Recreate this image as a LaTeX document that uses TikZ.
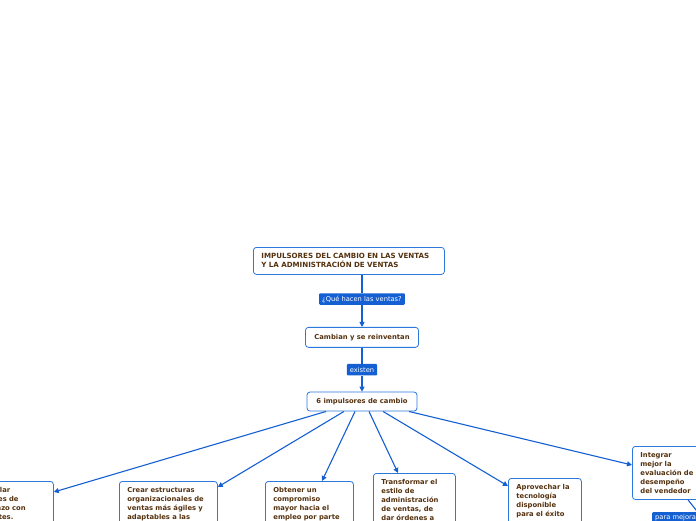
\documentclass[tikz,border=0pt]{standalone}
\usepackage{fontspec}
\setmainfont{DejaVu Sans}
\usetikzlibrary{arrows.meta, positioning}
\definecolor{mapblue}{RGB}{45, 120, 220}
\definecolor{linkblue}{RGB}{20, 95, 210}
\definecolor{mapbrown}{RGB}{85, 50, 15}

\begin{document}
\begin{tikzpicture}[
    x=1pt, y=-1pt,
    topic/.style={rectangle, rounded corners=3pt, draw=mapblue, line width=0.8pt,
                fill=white, text=mapbrown, align=left, inner xsep=8pt, inner ysep=6pt,
                font=\fontsize{6.8}{9}\selectfont\bfseries},
    driver/.style={topic, anchor=north west, text depth=60pt},
    tag/.style={rectangle, rounded corners=1pt, fill=linkblue, text=white,
                inner xsep=3pt, inner ysep=0pt, minimum height=11.5pt,
                font=\fontsize{6.7}{8}\selectfont},
    link/.style={linkblue, line width=1.1pt},
    arrow/.style={link, -{Triangle[length=5pt, width=5pt]}}
]
\useasboundingbox (0,0) rectangle (696,520);
\clip (0,0) rectangle (696,520);

% centre
\node[topic, anchor=north west, text width=175pt, minimum height=27pt, inner ysep=5pt,
      font=\fontsize{7.1}{9}\selectfont\bfseries] (title) at (253,247)
    {IMPULSORES DEL CAMBIO EN LAS VENTAS\\Y LA ADMINISTRACIÓN DE VENTAS};
\node[tag] (que) at (362,299) {¿Qué hacen las ventas?};
\node[topic, align=center, minimum width=113pt, minimum height=20pt, inner ysep=3pt,
      below=22pt of que] (cambian)
    {Cambian y se reinventan};
\node[tag, below=16pt of cambian] (existen) {existen};
\node[topic, align=center, minimum width=110pt, minimum height=19pt, inner ysep=3pt,
      below=16pt of existen] (seis)
    {6 impulsores de cambio};

% impulsores
\node[driver, text width=78pt] (relaciones) at (-41,481)
    {Desarrollar\\relaciones de\\largo plazo con\\los clientes.};
\node[driver, text width=82pt] (estructuras) at (119,481)
    {Crear estructuras\\organizacionales de\\ventas más ágiles y\\adaptables a las};
\node[driver, text width=72pt] (compromiso) at (265,481)
    {Obtener un\\compromiso\\mayor hacia el\\empleo por parte};
\node[driver, text width=66pt] (estilo) at (373,473)
    {Transformar el\\estilo de\\administración\\de ventas, de\\dar órdenes a};
\node[driver, text width=57pt] (tecnologia) at (508,478)
    {Aprovechar la\\tecnología\\disponible\\para el éxito};
\node[topic, anchor=north west, text width=54pt] (evaluacion) at (632,446)
    {Integrar\\mejor la\\evaluación de\\desempeño\\del vendedor};
\node[tag, anchor=north west] (mejorar) at (652,512) {para mejorar};
\coordinate (sigue) at (712,530);

\draw[link] (title.south -| que) -- (que);
\draw[arrow] (que) -- (cambian);
\draw[link] (cambian) -- (existen);
\draw[arrow] (existen) -- (seis);

\draw[arrow] ([xshift=-36pt]seis.south) -- ([yshift=-11pt]relaciones.north east);
\draw[arrow] ([xshift=-18pt]seis.south) -- ([yshift=-6pt]estructuras.north east);
\draw[arrow] ([xshift=-7pt]seis.south) -- ([xshift=57pt]compromiso.north west);
\draw[arrow] ([xshift=7pt]seis.south) -- ([xshift=25pt]estilo.north west);
\draw[arrow] ([xshift=21pt]seis.south) -- ([yshift=-8pt]tecnologia.north west);
\draw[arrow] ([xshift=47pt]seis.south) -- ([yshift=-19pt]evaluacion.north west);
\draw[link] ([xshift=56pt]evaluacion.south west) -- (sigue);
\end{tikzpicture}
\end{document}
